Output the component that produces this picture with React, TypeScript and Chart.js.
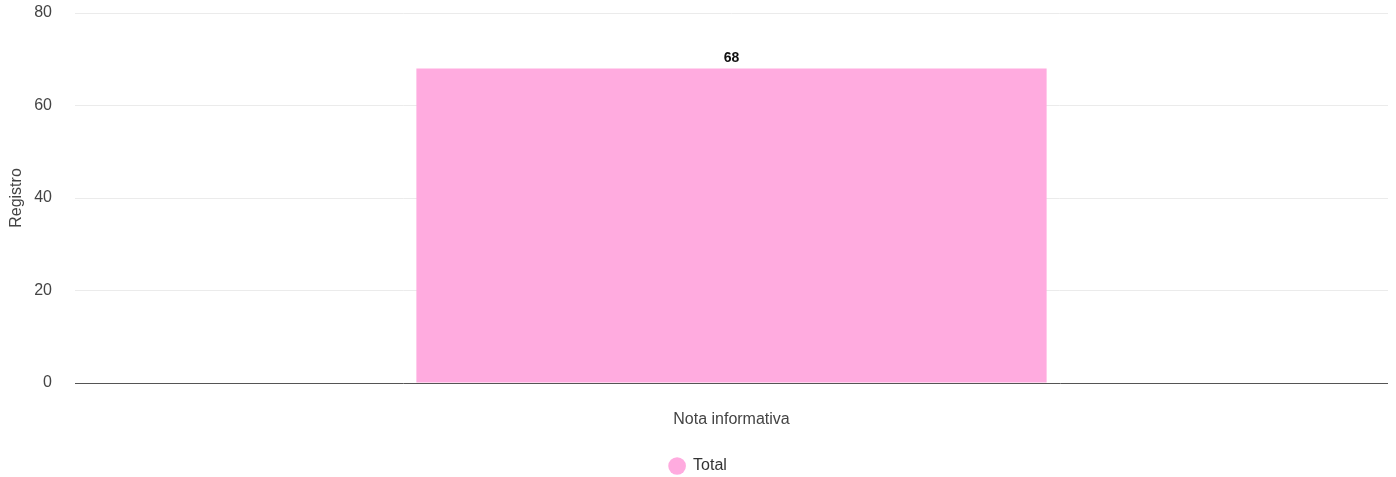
import React, { useEffect, useRef } from "react";
import { Chart, registerables } from "chart.js";

Chart.register(...registerables);

const categories = ["Nota informativa"];
const totalValues = [68];
const seriesLabel = "Total";
const yTickStep = 20;
const yMax = 80;
const yTitle = "Registro";

const FONT = "'Liberation Sans', Arial, Helvetica, sans-serif";

const valueLabelPlugin = {
  id: "valueLabels",
  afterDatasetsDraw(chart: any) {
    const ctx = chart.ctx;
    ctx.save();
    ctx.font = `bold 14px ${FONT}`;
    ctx.fillStyle = "#111";
    ctx.textAlign = "center";
    ctx.textBaseline = "alphabetic";
    chart.data.datasets.forEach((ds: any, i: number) => {
      const meta = chart.getDatasetMeta(i);
      meta.data.forEach((bar: any, j: number) => {
        ctx.fillText(String(ds.data[j]), bar.x, bar.y - 7);
      });
    });
    ctx.restore();
  },
};

export default function App() {
  const ref = useRef<HTMLCanvasElement | null>(null);
  useEffect(() => {
    document.body.style.margin = "0";
    if (!ref.current) return;
    const chart = new Chart(ref.current, {
      type: "bar",
      data: {
        labels: categories,
        datasets: [
          {
            label: seriesLabel,
            data: totalValues,
            backgroundColor: "#FFABDF",
            borderWidth: 0,
            categoryPercentage: 0.6,
            barPercentage: 0.8,
          },
        ],
      },
      options: {
        animation: false,
        responsive: true,
        maintainAspectRatio: false,
        layout: { padding: { top: 0, left: 0, right: 0, bottom: -7 } },
        plugins: {
          legend: {
            position: "bottom",
            labels: {
              usePointStyle: true,
              pointStyle: "circle",
              boxWidth: 16,
              boxHeight: 12.5,
              padding: 6,
              color: "#333",
              font: { family: FONT, size: 16 },
            },
          },
          tooltip: { enabled: false },
        },
        scales: {
          x: {
            grid: { display: false, drawTicks: false },
            border: { display: true, color: "#555", width: 1 },
            ticks: {
              color: "#444",
              padding: 27,
              font: { family: FONT, size: 16 },
            },
            afterFit: (axis: any) => {
              axis.height = 69;
            },
          },
          y: {
            min: 0,
            max: yMax,
            grid: { color: "#ebebeb", drawTicks: false },
            border: { display: false },
            ticks: {
              stepSize: yTickStep,
              color: "#444",
              padding: 23,
              font: { family: FONT, size: 16 },
            },
            title: {
              display: true,
              text: yTitle,
              color: "#444",
              font: { family: FONT, size: 16 },
              padding: { top: -1.5, bottom: 0 },
            },
            afterFit: (axis: any) => {
              axis.width = 67;
              axis.paddingTop = 13;
            },
          },
        },
      },
      plugins: [valueLabelPlugin],
    });
    return () => chart.destroy();
  }, []);
  return (
    <div style={{ marginLeft: 8, width: 1380, height: 477, position: "relative" }}>
      <canvas ref={ref} />
    </div>
  );
}
